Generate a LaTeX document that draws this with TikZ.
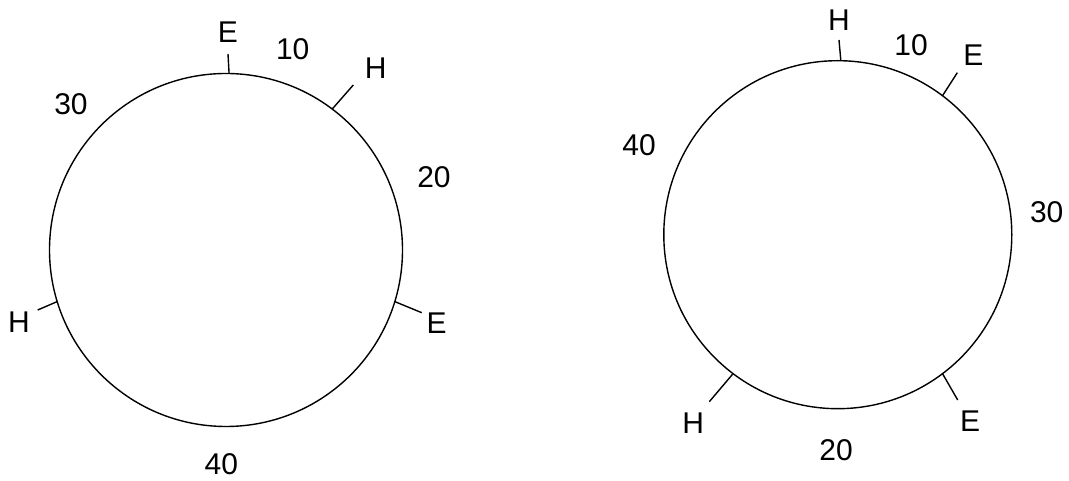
\documentclass[tikz,border=0pt]{standalone}
\usepackage{fontspec}
\setmainfont{Liberation Sans}
\begin{document}
\begin{tikzpicture}[x=1pt,y=1pt,
  ring/.style={circle,draw,line width=1.4pt,inner sep=0pt,outer sep=0pt},
  tick/.style={line width=1.4pt},
  lbl/.style={inner sep=0pt,font=\fontsize{30}{31}\selectfont}]
\useasboundingbox (0,0) rectangle (1069,481);
% left circle
\node[ring,minimum size=353pt] (L) at (226,231) {};
\coordinate (Lt1) at (228,427);
\coordinate (Lt2) at (353.3,396);
\coordinate (Lt3) at (37.7,171);
\coordinate (Lt4) at (421.7,168.3);
\draw[tick] (L.89.5) -- (Lt1);
\draw[tick] (L.53.5) -- (Lt2);
\draw[tick] (L.197.7) -- (Lt3);
\draw[tick] (L.-17.8) -- (Lt4);
\node[lbl] (LE1) at (228,449) {E};
\node[lbl] (L10) at (292.7,431.7) {10};
\node[lbl] (LH1) at (375.7,412.7) {H};
\node[lbl] (L30) at (71,376.7) {30};
\node[lbl] (L20) at (434,304) {20};
\node[lbl] (LH2) at (19,159.3) {H};
\node[lbl] (LE2) at (436.7,158.3) {E};
\node[lbl] (L40) at (221.3,16.5) {40};
% right circle
\node[ring,minimum size=348pt] (R) at (837.8,246.3) {};
\coordinate (Rt1) at (839,441);
\coordinate (Rt2) at (957.3,408.3);
\coordinate (Rt3) at (709.3,79.3);
\coordinate (Rt4) at (957.7,81);
\draw[tick] (R.89.6) -- (Rt1);
\draw[tick] (R.53.4) -- (Rt2);
\draw[tick] (R.233) -- (Rt3);
\draw[tick] (R.-53.6) -- (Rt4);
\node[lbl] (RH1) at (839,461) {H};
\node[lbl] (R10) at (911,436) {10};
\node[lbl] (RE1) at (973.3,426) {E};
\node[lbl] (R40) at (639,336) {40};
\node[lbl] (R30) at (1046.7,269.3) {30};
\node[lbl] (RH2) at (693.3,58.3) {H};
\node[lbl] (RE2) at (970,60.3) {E};
\node[lbl] (R20) at (836,31) {20};
\end{tikzpicture}
\end{document}
